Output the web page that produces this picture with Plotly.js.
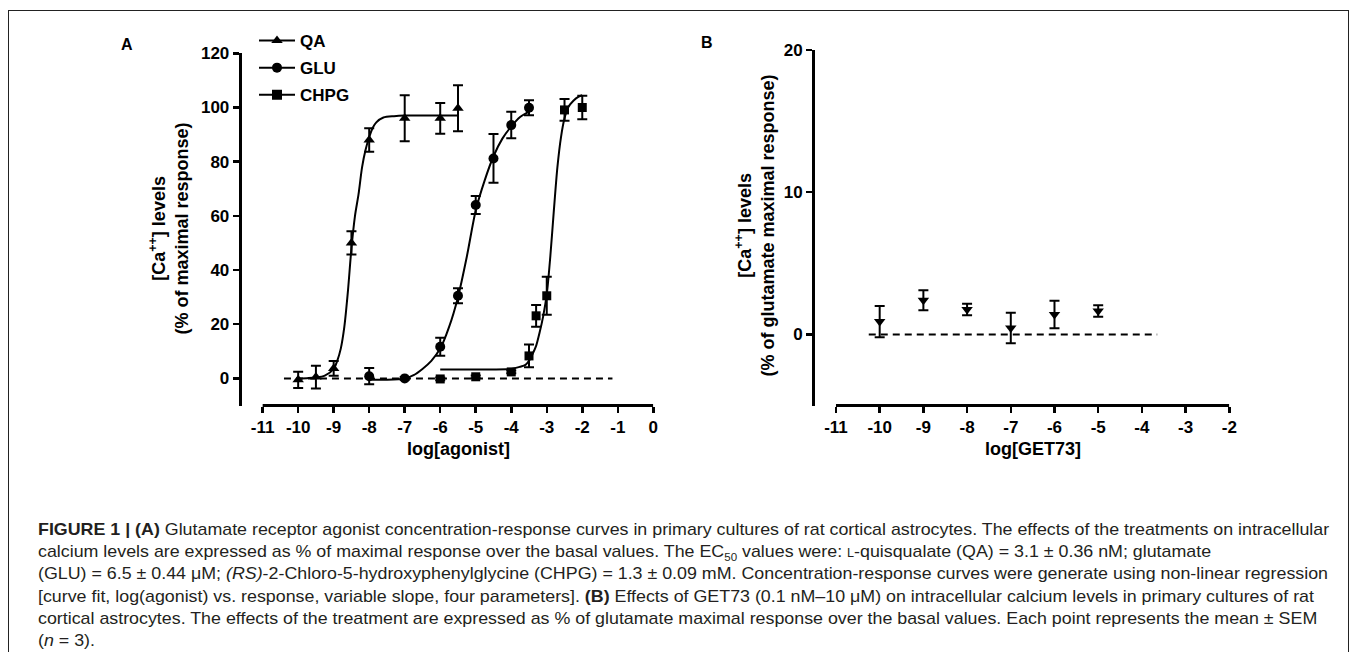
<!DOCTYPE html>
<html>
<head>
<meta charset="utf-8">
<script src="https://cdn.plot.ly/plotly-3.0.1.min.js"></script>
<style>
  html, body { margin:0; padding:0; background:#fff; width:1357px; height:652px; overflow:hidden; }
  #plot { position:absolute; left:0; top:0; width:1357px; height:652px; }
  #frame { position:absolute; left:8px; top:10px; width:1341px; height:720px; border:1.5px solid #222; box-sizing:border-box; pointer-events:none; z-index:5; }
  #caption { position:absolute; left:38px; top:519px; font-family:"Liberation Sans Narrow","Liberation Sans",Arial,sans-serif; font-size:17px; line-height:22.2px; color:#231f20; transform-origin:0 0; white-space:nowrap; z-index:4; }
  #caption .ln span { white-space:nowrap; }
  .sc { font-variant: small-caps; }
</style>
</head>
<body>
<div id="plot"></div>
<div id="frame"></div>
<div id="caption">
  <div class="ln"><span><b>FIGURE 1 | (A)</b> Glutamate receptor agonist concentration-response curves in primary cultures of rat cortical astrocytes. The effects of the treatments on intracellular</span></div>
  <div class="ln"><span>calcium levels are expressed as % of maximal response over the basal values. The EC<sub style="font-size:11px;line-height:0">50</sub> values were: <span class="sc">l</span>-quisqualate (QA) = 3.1 ± 0.36 nM; glutamate</span></div>
  <div class="ln"><span>(GLU) = 6.5 ± 0.44 μM; <i>(RS)</i>-2-Chloro-5-hydroxyphenylglycine (CHPG) = 1.3 ± 0.09 mM. Concentration-response curves were generate using non-linear regression</span></div>
  <div class="ln"><span>[curve fit, log(agonist) vs. response, variable slope, four parameters]. <b>(B)</b> Effects of GET73 (0.1 nM–10 μM) on intracellular calcium levels in primary cultures of rat</span></div>
  <div class="ln"><span>cortical astrocytes. The effects of the treatment are expressed as % of glutamate maximal response over the basal values. Each point represents the mean ± SEM</span></div>
  <div class="ln"><span>(<i>n</i> = 3).</span></div>
</div>
<script>
// ---------- Panel A data ----------
const qaX   = [-10, -9.5, -9, -8.5, -8, -7, -6, -5.5];
const qaY   = [-0.5, 0.5, 3.7, 50, 88, 96, 96, 99.7];
const qaErr = [3, 4.2, 2.7, 4.3, 4.3, 8.5, 5.7, 8.5];

const gluX   = [-8, -7, -6, -5.5, -5, -4.5, -4, -3.5];
const gluY   = [0.8, 0, 11.7, 30.5, 64, 81.2, 93.5, 99.9];
const gluErr = [3, 0.5, 3.3, 2.8, 3.3, 9, 4.9, 2.8];

const chpgX   = [-6, -5, -4, -3.5, -3.3, -3, -2.5, -2];
const chpgY   = [-0.2, 0.6, 2.4, 8.3, 23.1, 30.5, 99.1, 100];
const chpgErr = [0.5, 0.5, 0.5, 4.2, 4, 7, 4, 4.3];

// fitted curves
const qaFitX = [-10, -9.75, -9.5, -9.25, -9, -8.9, -8.8, -8.7, -8.6, -8.5, -8.4, -8.3, -8.2, -8.1, -8, -7.9, -7.8, -7.6, -7.3, -7, -6, -5.5];
const qaFitY = [0, 0.1, 0.3, 1.0, 3.5, 6.5, 11, 19, 32, 48, 60, 68, 78, 84.5, 89, 92.5, 94.5, 96.3, 96.8, 97, 97, 97];

const gluFitX = [-8, -7.5, -7, -6.75, -6.5, -6.25, -6, -5.75, -5.5, -5.25, -5, -4.75, -4.5, -4.25, -4, -3.75, -3.5];
const gluFitY = [-0.5, -0.5, 0, 1.2, 3.5, 6.5, 11, 19, 30, 45, 62, 73, 82, 88.5, 93, 96.5, 98.5];

const chpgFitX = [-6, -5, -4, -3.75, -3.6, -3.5, -3.4, -3.3, -3.2, -3.1, -3, -2.9, -2.8, -2.7, -2.6, -2.5, -2.4, -2.25, -2.1, -2];
const chpgFitY = [3.3, 3.3, 3.5, 4.3, 5, 6.5, 9, 12, 17, 23, 31, 45, 62, 78, 89, 96, 100, 102.5, 104, 104.5];

const baseAX = [-10.4, -1.15];
const baseAY = [0, 0];

// ---------- Panel B data ----------
const getX   = [-10, -9, -8, -7, -6, -5];
const getY   = [0.9, 2.4, 1.75, 0.45, 1.4, 1.65];
const getErr = [1.1, 0.7, 0.4, 1.07, 0.97, 0.4];
const baseBX = [-10.25, -3.65];
const baseBY = [0, 0];

// ---------- tick labels ----------
const tickA = [-11, -10, -9, -8, -7, -6, -5, -4, -3, -2, -1, 0];
const tickAy = [0, 20, 40, 60, 80, 100, 120];
const tickB = [-11, -10, -9, -8, -7, -6, -5, -4, -3, -2];
const tickBy = [0, 10, 20];

const seriesNames = ['QA', 'GLU', 'CHPG'];
const seriesSymbols = ['triangle-up', 'circle', 'square'];

const FONT = 'Liberation Sans, Arial, sans-serif';
const blk = '#000';

function pts(x, y, err, sym, size, xa, ya) {
  return { x, y, type:'scatter', mode:'markers', xaxis:xa, yaxis:ya, showlegend:false, cliponaxis:false,
    marker:{symbol:sym, size:size, color:blk},
    error_y:{type:'data', array:err, visible:true, color:blk, thickness:2, width:5} };
}
function fit(x, y, xa, ya) {
  return { x, y, type:'scatter', mode:'lines', xaxis:xa, yaxis:ya, showlegend:false, cliponaxis:false,
    line:{color:blk, width:2, shape:'spline', smoothing:0.8} };
}
function dashed(x, y, xa, ya) {
  return { x, y, type:'scatter', mode:'lines', xaxis:xa, yaxis:ya, showlegend:false,
    line:{color:blk, width:2, dash:'7px,5px'} };
}

const traces = [
  dashed(baseAX, baseAY, 'x', 'y'),
  fit(qaFitX, qaFitY, 'x', 'y'),
  fit(gluFitX, gluFitY, 'x', 'y'),
  fit(chpgFitX, chpgFitY, 'x', 'y'),
  pts(qaX, qaY, qaErr, 'triangle-up', 10, 'x', 'y'),
  pts(gluX, gluY, gluErr, 'circle', 10, 'x', 'y'),
  pts(chpgX, chpgY, chpgErr, 'square', 9, 'x', 'y'),
  dashed(baseBX, baseBY, 'x2', 'y2'),
  pts(getX, getY, getErr, 'triangle-down', 10, 'x2', 'y2')
];
// legend entries
seriesNames.forEach((n, i) => {
  traces.push({ x:[null], y:[null], type:'scatter', mode:'lines+markers', name:n, legendgroup:'g'+i,
    xaxis:'x', yaxis:'y', marker:{symbol:seriesSymbols[i], size:10, color:blk}, line:{color:blk, width:2} });
});

const W = 1357, H = 652;
const px = v => v / W, py = v => (H - v) / H;

const axisCommon = {
  showgrid:false, zeroline:false, ticks:'outside', ticklen:6, tickwidth:2.5, tickcolor:blk,
  tickfont:{family:FONT, size:17, color:blk, weight:700}, fixedrange:true
};

function ann(text, x, y, size, angle) {
  return {text, xref:'paper', yref:'paper', x:px(x), y:py(y), xanchor:'center', yanchor:'middle',
    textangle:angle || 0, showarrow:false, font:{family:FONT, size:size, weight:700, color:blk}};
}

const layout = {
  width:W, height:H, margin:{l:0, r:0, t:0, b:0},
  paper_bgcolor:'rgba(0,0,0,0)', plot_bgcolor:'rgba(0,0,0,0)',
  font:{family:FONT, color:blk},
  xaxis: Object.assign({}, axisCommon, { domain:[px(241.7), px(653.3)], range:[-11.59, 0], tickmode:'array', tickvals:tickA, ticktext:tickA.map(String), showline:false, anchor:'y' }),
  yaxis: Object.assign({}, axisCommon, { domain:[py(405.5), py(53.3)], range:[-10, 120], tickmode:'array', tickvals:tickAy, showline:true, linewidth:3, linecolor:blk, anchor:'x' }),
  xaxis2: Object.assign({}, axisCommon, { domain:[px(815), px(1229.3)], range:[-11.48, -2], tickmode:'array', tickvals:tickB, ticktext:tickB.map(String), showline:false, anchor:'y2' }),
  yaxis2: Object.assign({}, axisCommon, { domain:[py(405.5), py(50)], range:[-5, 20], tickmode:'array', tickvals:tickBy, showline:true, linewidth:3, linecolor:blk, anchor:'x2' }),
  shapes: [
    {type:'line', xref:'x', yref:'y domain', x0:tickA[0], x1:tickA[tickA.length-1], y0:0, y1:0, line:{color:blk, width:3}},
    {type:'line', xref:'x2', yref:'y2 domain', x0:tickB[0], x1:tickB[tickB.length-1], y0:0, y1:0, line:{color:blk, width:3}}
  ],
  showlegend:true,
  legend:{x:px(254), xanchor:'left', y:py(23), yanchor:'top', bgcolor:'rgba(0,0,0,0)', borderwidth:0,
    font:{family:FONT, size:17, color:blk, weight:700}, tracegroupgap:2, itemwidth:36},
  annotations: [
    ann('A', 127, 44.5, 16),
    ann('B', 706.5, 43, 16),
    ann('[Ca<sup>++</sup>] levels<br>(% of maximal response)', 169.5, 229, 18, -90),
    ann('[Ca<sup>++</sup>] levels<br>(% of glutamate maximal response)', 755.5, 226, 18, -90),
    ann('log[agonist]', 458, 449, 18),
    ann('log[GET73]', 1032.5, 449, 18)
  ]
};

Plotly.newPlot('plot', traces, layout, {staticPlot:true, displayModeBar:false}).then(() => {
  const cap = document.getElementById('caption');
  const spans = cap.querySelectorAll('.ln > span');
  const w = spans[2].getBoundingClientRect().width;
  const s = 1290 / w;
  cap.style.transform = 'scaleX(' + s + ')';
});
</script>
</body>
</html>
